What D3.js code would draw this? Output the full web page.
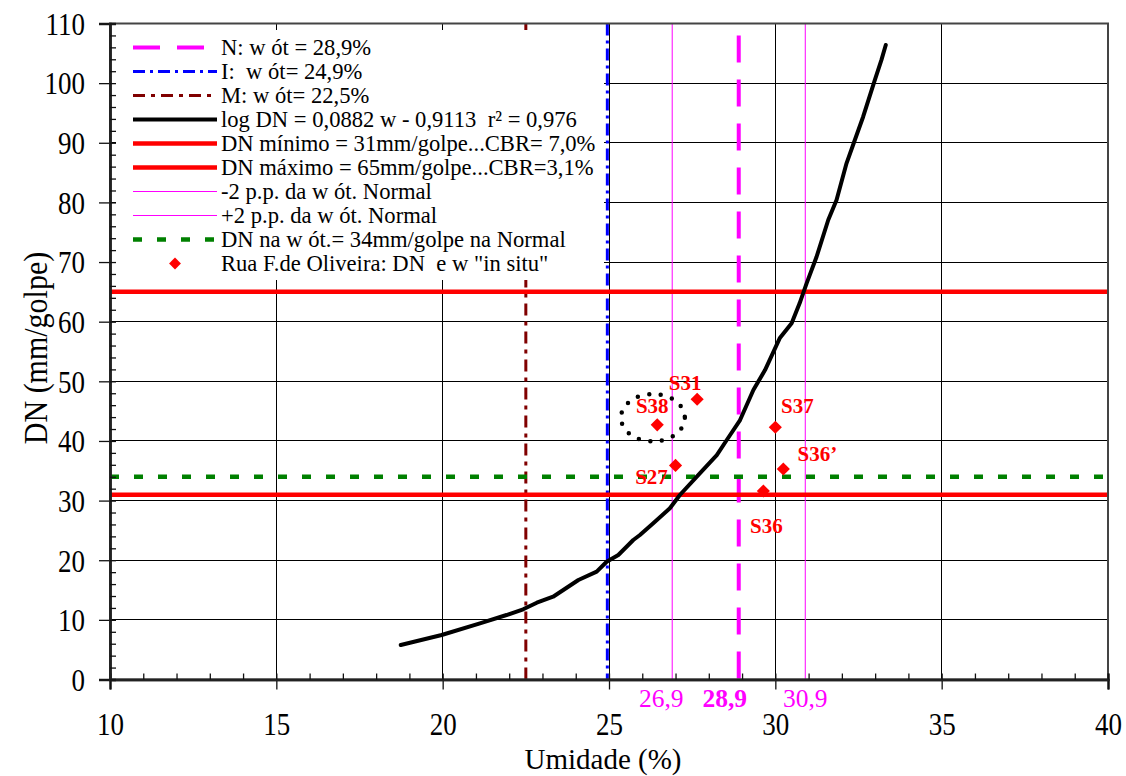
<!DOCTYPE html>
<html><head><meta charset="utf-8">
<script src="https://cdn.jsdelivr.net/npm/d3@7"></script>
<style>
body{margin:0;background:#fff}
svg{display:block}
text{font-family:"Liberation Serif","Times New Roman",serif}
.pre{white-space:pre}
</style>
</head><body>
<svg id="c" width="1126" height="776"></svg>
<script>
// ---------- data ----------
const xTicks = [10, 15, 20, 25, 30, 35, 40];
const yTicks = [0, 10, 20, 30, 40, 50, 60, 70, 80, 90, 100, 110];
const xMinorTicks = d3.range(10, 41, 1);
const yMinorTicks = d3.range(0, 111, 2);

// fitted curve
const curveW  = [18.74, 19.97, 21.12, 21.92, 22.42, 22.83, 23.32, 24.08, 24.63, 24.93, 25.28, 25.73, 25.93, 26.33, 26.83, 27.13, 27.73, 28.24, 28.54, 28.94, 29.34, 29.69, 30.13, 30.49, 30.73, 30.94, 31.24, 31.59, 31.84, 32.14, 32.39, 32.64, 32.99, 33.19, 33.32];
const curveDN = [5.78, 7.46, 9.42, 10.81, 11.77, 12.88, 13.88, 16.68, 18.08, 19.75, 20.88, 23.39, 24.23, 26.19, 28.71, 30.94, 34.57, 37.64, 40.16, 43.51, 48.54, 51.89, 57.21, 59.73, 63.08, 66.43, 70.89, 77.05, 80.41, 86.55, 90.46, 94.37, 100.5, 103.9, 106.4];

// in situ points
const siteNames = ["S31", "S38", "S37", "S27", "S36\u2019", "S36"];
const siteW     = [27.65, 26.45, 30.0, 27.0, 30.24, 29.64];
const siteDN    = [47.0, 42.7, 42.3, 35.9, 35.3, 31.6];

// reference values
const wotN = 28.9, wotI = 24.95, wotM = 22.5;
const wotMinus = 26.9, wotPlus = 30.9;
const dnMin = 31, dnMax = 65, dnWot = 34;
const markValues = [26.9, 28.9, 30.9];
const markLabels = ["26,9", "28,9", "30,9"];
const circleCenter = [26.32, 43.9];
const circleRadii = [0.96, 3.97];

const legendLabels = [
  "N: w \u00f3t = 28,9%",
  "I:  w \u00f3t= 24,9%",
  "M: w \u00f3t= 22,5%",
  "log DN = 0,0882 w - 0,9113  r\u00b2 = 0,976",
  "DN m\u00ednimo = 31mm/golpe...CBR= 7,0%",
  "DN m\u00e1ximo = 65mm/golpe...CBR=3,1%",
  "-2 p.p. da w \u00f3t. Normal",
  "+2 p.p. da w \u00f3t. Normal",
  "DN na w \u00f3t.= 34mm/golpe na Normal",
  "Rua F.de Oliveira: DN  e w \"in situ\""
];

// ---------- styles / layout ----------
const M = {l: 110, r: 1108, t: 23.5, b: 679.5};
const FONT = '"Liberation Serif","Times New Roman",serif';
const SY = 1.14; // vertical stretch of the original's glyphs
const styN = {stroke: "#ff00ff", width: 4, dash: "27,17"};
const styI = {stroke: "#0000ff", width: 3, dash: "12,5,3,5"};
const styM = {stroke: "#800000", width: 3, dash: "12,6,4,6"};
const styCurve = {stroke: "#000", width: 4, dash: null};
const styRed = {stroke: "#ff0000", width: 4.5, dash: null};
const styThin = {stroke: "#ff00ff", width: 1, dash: null};
const styGreen = {stroke: "#008000", width: 4.5, dash: "9,15"};
const legendStyles = [styN, styI, styM, styCurve, styRed, styRed, styThin, styThin, styGreen, null];
const siteLabelOffsets = [[-12, -9], [-5, -12], [22, -14], [-24, 19], [34, -8], [3, 42]];
const markLabelDx = [-11, -14, 0];

const svg = d3.select("#c");
const x = d3.scaleLinear().domain([10, 40]).range([M.l, M.r]);
const y = d3.scaleLinear().domain([0, 110]).range([M.b, M.t]);

// gridlines
const grid = svg.append("g");
grid.selectAll(".gx").data(xTicks.slice(1, -1)).join("line")
  .attr("x1", d => x(d)).attr("x2", d => x(d)).attr("y1", M.t).attr("y2", M.b)
  .attr("stroke", "#000").attr("stroke-width", 1).attr("shape-rendering", "crispEdges");
grid.selectAll(".gy").data(yTicks.slice(1, -1)).join("line")
  .attr("y1", d => y(d)).attr("y2", d => y(d)).attr("x1", M.l).attr("x2", M.r)
  .attr("stroke", "#000").attr("stroke-width", 1).attr("shape-rendering", "crispEdges");

function vline(v, s, extra) {
  svg.append("line").attr("x1", x(v)).attr("x2", x(v)).attr("y1", y(110) + (extra ? 12 : 0)).attr("y2", y(0) + (extra ? 4 : 0))
    .attr("stroke", s.stroke).attr("stroke-width", s.width).attr("stroke-dasharray", s.dash);
}
function hline(v, s) {
  svg.append("line").attr("x1", M.l).attr("x2", M.r).attr("y1", y(v)).attr("y2", y(v))
    .attr("stroke", s.stroke).attr("stroke-width", s.width).attr("stroke-dasharray", s.dash);
}
vline(wotMinus, styThin);
vline(wotPlus, styThin);
vline(wotM, styM);
vline(wotI, styI);
vline(wotN, styN, true);
hline(dnWot, styGreen);
hline(dnMin, styRed);
hline(dnMax, styRed);

// curve
const curveData = curveW.map((w, i) => [w, curveDN[i]]);
svg.append("path").datum(curveData)
  .attr("d", d3.line().x(d => x(d[0])).y(d => y(d[1])))
  .attr("fill", "none").attr("stroke", "#000").attr("stroke-width", 4)
  .attr("stroke-linejoin", "round").attr("stroke-linecap", "round");

// legend
const lg = svg.append("g");
lg.append("rect").attr("x", 116).attr("y", 30).attr("width", 488).attr("height", 250).attr("fill", "#fff");
legendLabels.forEach((t, i) => {
  const ry = 47.5 + i * 24;
  const s = legendStyles[i];
  if (s) {
    lg.append("line").attr("x1", 133).attr("x2", 217).attr("y1", ry).attr("y2", ry)
      .attr("stroke", s.stroke).attr("stroke-width", s.width).attr("stroke-dasharray", s.dash);
  } else {
    lg.append("path").attr("d", d3.symbol(d3.symbolDiamond2, 90)()).attr("transform", `translate(175,${ry})`).attr("fill", "#ff0000");
  }
  lg.append("text").attr("class", "pre").attr("x", 221).attr("y", ry + 7.5).attr("font-size", 22.6).attr("fill", "#000").text(t);
});

// dotted circle around S38
svg.append("ellipse")
  .attr("cx", x(circleCenter[0])).attr("cy", y(circleCenter[1]))
  .attr("rx", x(circleCenter[0] + circleRadii[0]) - x(circleCenter[0]))
  .attr("ry", y(circleCenter[1]) - y(circleCenter[1] + circleRadii[1]))
  .attr("fill", "none").attr("stroke", "#000").attr("stroke-width", 4.5)
  .attr("stroke-linecap", "round").attr("stroke-dasharray", "0,11.6");

// points
siteW.forEach((w, i) => {
  svg.append("path").attr("d", d3.symbol(d3.symbolDiamond2, 110)())
    .attr("transform", `translate(${x(w)},${y(siteDN[i])})`).attr("fill", "#ff0000");
  svg.append("text").attr("x", x(w) + siteLabelOffsets[i][0]).attr("y", y(siteDN[i]) + siteLabelOffsets[i][1])
    .attr("text-anchor", "middle").attr("font-size", 21).attr("font-weight", "bold").attr("fill", "#ff0000")
    .text(siteNames[i]);
});

// border
svg.append("rect").attr("x", M.l).attr("y", M.t).attr("width", M.r - M.l).attr("height", M.b - M.t)
  .attr("fill", "none").attr("stroke", "#444").attr("stroke-width", 2);

// axes
const ax = svg.append("g").attr("transform", `translate(0,${M.b})`)
  .call(d3.axisBottom(x).tickValues(xTicks).tickSize(10).tickPadding(30).tickFormat(d3.format("d")));
const axm = svg.append("g").attr("transform", `translate(0,${M.b})`)
  .call(d3.axisTop(x).tickValues(xMinorTicks).tickSize(6).tickFormat(""));
const ay = svg.append("g").attr("transform", `translate(${M.l},0)`)
  .call(d3.axisLeft(y).tickValues(yTicks).tickSize(11).tickPadding(14).tickFormat(d3.format("d")));
const aym = svg.append("g").attr("transform", `translate(${M.l},0)`)
  .call(d3.axisRight(y).tickValues(yMinorTicks).tickSize(6).tickFormat(""));
[ax, axm, ay, aym].forEach(g => {
  g.select(".domain").attr("stroke", "#222").attr("stroke-width", 2.5);
  g.selectAll(".tick line").attr("stroke", "#111").attr("stroke-width", 1.3);
  g.selectAll("text").attr("font-family", FONT).attr("font-size", 27).attr("fill", "#000");
});
ay.selectAll(".tick text").attr("dy", "0.35em").attr("transform", `scale(1,${SY})`);
ax.selectAll(".tick text").attr("y", 56 / SY).attr("dy", 0).attr("transform", `scale(1,${SY})`);

// magenta value labels
markValues.forEach((v, i) => {
  svg.append("text").attr("x", x(v) + markLabelDx[i]).attr("y", 707)
    .attr("text-anchor", "middle").attr("font-size", 25.5).attr("fill", "#ff00ff")
    .attr("font-weight", i === 1 ? "bold" : "normal").text(markLabels[i]);
});

// titles
svg.append("text").attr("x", 603).attr("y", 769).attr("text-anchor", "middle")
  .attr("font-size", 29).text("Umidade (%)");
svg.append("text").attr("transform", `translate(47,348) rotate(-90) scale(1,1.1)`).attr("text-anchor", "middle")
  .attr("font-size", 30).text("DN (mm/golpe)");
</script>
</body></html>
